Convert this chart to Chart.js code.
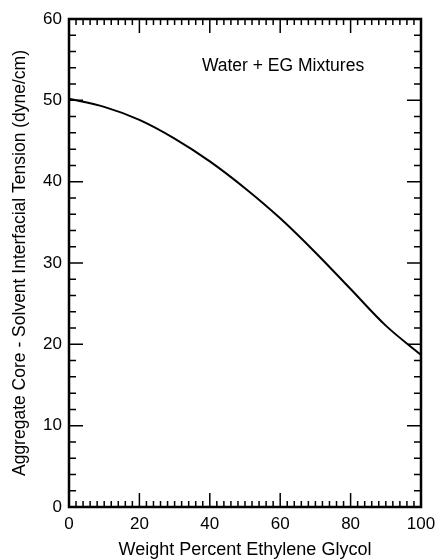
<!DOCTYPE html>
<html>
<head>
<meta charset="utf-8">
<script src="https://cdn.jsdelivr.net/npm/chart.js@4"></script>
<style>
  html, body { margin: 0; padding: 0; background: #fff; }
  #wrap { width: 436px; height: 559px; }
</style>
</head>
<body>
<div id="wrap"><canvas id="ift"></canvas></div>
<script>
// weight percent EG and interfacial tension
const wtPercent = [0, 10, 20, 30, 40, 50, 60, 70, 80, 90, 100];
const tension = [50.2, 49.2, 47.6, 45.3, 42.5, 39.2, 35.5, 31.3, 26.8, 22.3, 18.7];
const xTickLabels = [0, 20, 40, 60, 80, 100];
const yTickLabels = [0, 10, 20, 30, 40, 50, 60];
const noteText = 'Water + EG Mixtures';

const FONT = '"Liberation Sans", Arial, sans-serif';

// frame and inward ticks on all four sides, plus the note
const frameTicks = {
    id: 'frameTicks',
    afterDraw(chart) {
        const { ctx, chartArea: a, scales: { x, y } } = chart;
        ctx.save();
        ctx.strokeStyle = '#000';
        ctx.lineWidth = 1.5;
        ctx.beginPath();
        for (let v = 0; v <= 100; v += 2) {
            const px = x.getPixelForValue(v);
            const len = v % 20 === 0 ? 14 : 6;
            ctx.moveTo(px, a.bottom); ctx.lineTo(px, a.bottom - len);
            ctx.moveTo(px, a.top); ctx.lineTo(px, a.top + len);
        }
        for (let v = 0; v <= 60; v += 2) {
            const py = y.getPixelForValue(v);
            const len = v % 10 === 0 ? 14 : 7;
            ctx.moveTo(a.left, py); ctx.lineTo(a.left + len, py);
            ctx.moveTo(a.right, py); ctx.lineTo(a.right - len, py);
        }
        ctx.stroke();
        ctx.lineWidth = 2.5;
        ctx.strokeRect(a.left, a.top, a.right - a.left, a.bottom - a.top);

        ctx.fillStyle = '#000';
        ctx.font = '17.5px ' + FONT;
        ctx.textAlign = 'center';
        ctx.textBaseline = 'middle';
        ctx.fillText(noteText, x.getPixelForValue(60.8), y.getPixelForValue(54.2));
        ctx.restore();
    }
};

new Chart(document.getElementById('ift'), {
    type: 'line',
    data: {
        datasets: [{
            data: wtPercent.map((w, i) => ({ x: w, y: tension[i] })),
            borderColor: '#000',
            borderWidth: 2,
            pointRadius: 0,
            cubicInterpolationMode: 'monotone',
            fill: false
        }]
    },
    options: {
        responsive: true,
        maintainAspectRatio: false,
        animation: false,
        layout: { padding: { top: 19, right: 15, left: 0, bottom: 0 } },
        plugins: { legend: { display: false }, tooltip: { enabled: false } },
        scales: {
            x: {
                type: 'linear',
                min: 0, max: 100,
                afterFit: s => { s.height = 52; s.paddingLeft = 0; s.paddingRight = 0; },
                afterBuildTicks: s => { s.ticks = xTickLabels.map(v => ({ value: v })); },
                grid: { display: false, drawTicks: false },
                border: { display: false },
                ticks: { color: '#000', padding: 7, maxRotation: 0, font: { family: FONT, size: 17 } },
                title: {
                    display: true,
                    text: 'Weight Percent Ethylene Glycol',
                    color: '#000',
                    padding: 0,
                    font: { family: FONT, size: 18, lineHeight: 1 }
                }
            },
            y: {
                min: 0, max: 60,
                afterFit: s => { s.width = 69; s.paddingTop = 0; s.paddingBottom = 0; },
                afterBuildTicks: s => { s.ticks = yTickLabels.map(v => ({ value: v })); },
                grid: { display: false, drawTicks: false },
                border: { display: false },
                ticks: { color: '#000', padding: 7, font: { family: FONT, size: 17 } },
                title: {
                    display: true,
                    text: 'Aggregate Core - Solvent Interfacial Tension (dyne/cm)',
                    color: '#000',
                    padding: { top: 10, bottom: 0 },
                    font: { family: FONT, size: 17.5 }
                }
            }
        }
    },
    plugins: [frameTicks]
});
</script>
</body>
</html>
